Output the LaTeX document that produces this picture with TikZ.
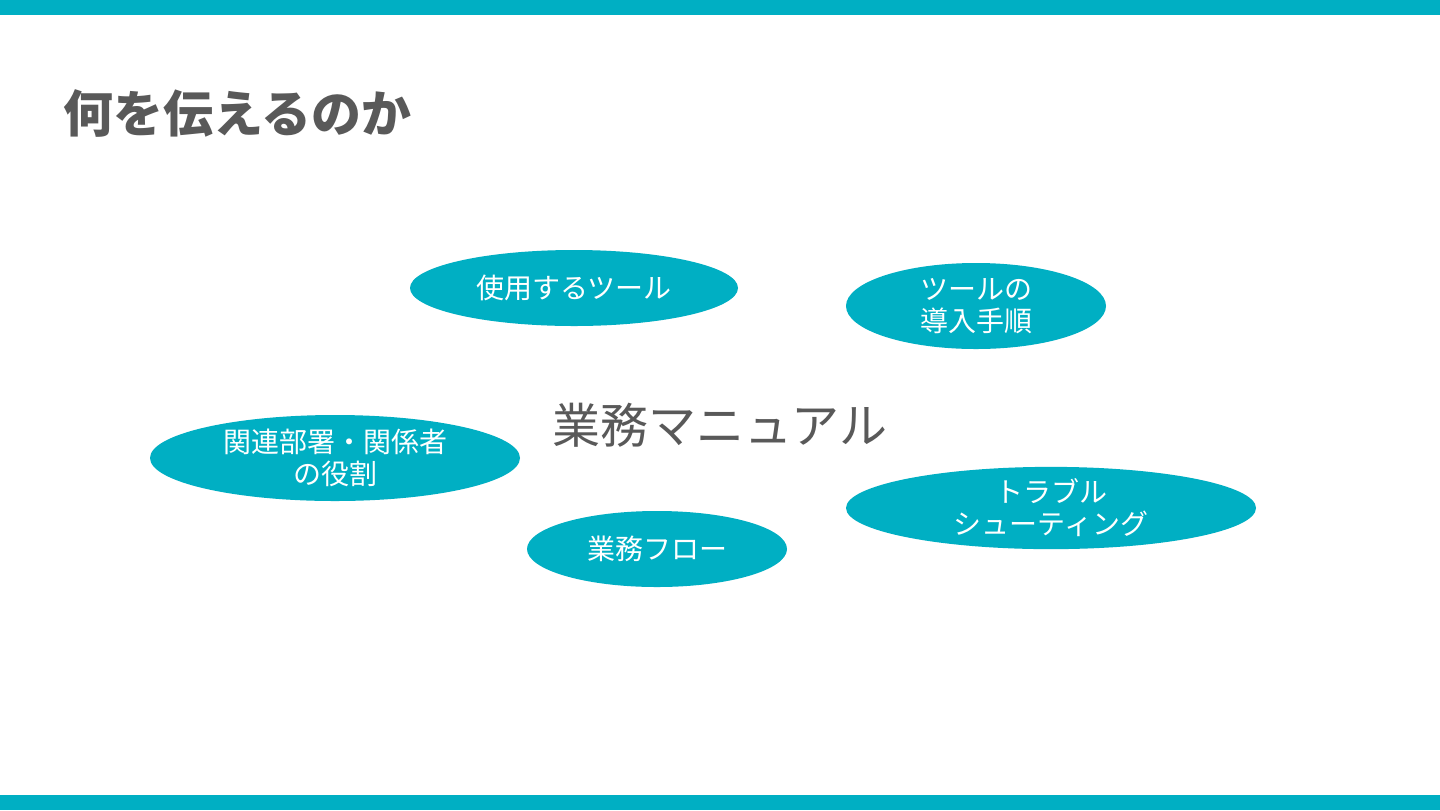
\documentclass[tikz,border=0pt]{standalone}
\usepackage{fontspec}
\setmainfont{Noto Sans CJK JP}
\usetikzlibrary{shapes.geometric,positioning}
\definecolor{mnTeal}{HTML}{00AFC3}
\definecolor{mnGrey}{HTML}{595959}
\tikzset{
  bar/.style={fill=mnTeal, draw=none},
  bubble/.style={ellipse, fill=mnTeal, draw=none, text=white, align=center,
              inner sep=0pt, font=\fontsize{14pt}{16pt}\selectfont},
  heading/.style={anchor=west, text=mnGrey, font=\fontsize{25pt}{30pt}\selectfont\bfseries},
  centre/.style={text=mnGrey, font=\fontsize{24pt}{28pt}\selectfont},
}

\begin{document}
\begin{tikzpicture}[x=0.5pt,y=-0.5pt]
    \useasboundingbox (0,0) rectangle (1440,810);
    \fill[white] (0,0) rectangle (1440,810);
    \fill[bar] (0,0) rectangle (1440,15);
    \fill[bar] (0,795) rectangle (1440,810);
    \node[heading] (title) at (56,113) {何を伝えるのか};
    \node[centre] (manual) at (720,425) {業務マニュアル};
    \node[bubble,minimum width=164pt,minimum height=38pt] (tools) at (574,288)
         {使用するツール};
    \node[bubble,minimum width=130pt,minimum height=43pt] (setup) at (976,306)
         {ツールの\\導入手順};
    \node[bubble,minimum width=185pt,minimum height=43pt] (roles) at (335,458)
         {関連部署・関係者\\の役割};
    \node[bubble,minimum width=130pt,minimum height=38pt] (flow) at (657,549)
         {業務フロー};
    \node[bubble,minimum width=205pt,minimum height=38.5pt] (trouble) at (1051,508)
         {トラブル\\シューティング};
\end{tikzpicture}
\end{document}
